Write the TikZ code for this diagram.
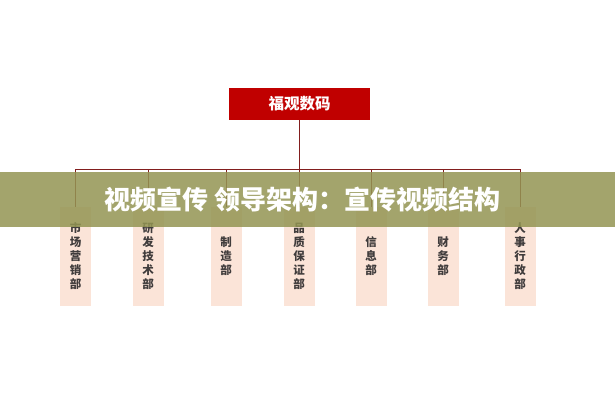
\documentclass[tikz,border=0pt]{standalone}
\usepackage{fontspec}
\setmainfont{Noto Sans CJK SC}
\definecolor{topred}{RGB}{192,0,0}
\definecolor{deptpink}{RGB}{251,228,216}
\definecolor{deptgray}{RGB}{64,60,60}
\definecolor{linered}{RGB}{130,30,30}
\definecolor{bannergreen}{RGB}{147,149,83}
\begin{document}
\begin{tikzpicture}[x=1pt,y=-1pt,
  dept/.style={fill=deptpink, minimum width=31pt, minimum height=99pt, inner sep=0pt,
    align=center, font=\fontsize{11.5}{14}\selectfont\bfseries, text=deptgray},
  link/.style={draw=linered, line width=0.9pt}]
\useasboundingbox (0,0) rectangle (615,400);
\fill[white] (0,0) rectangle (615,400);
\node[fill=topred, minimum width=141pt, minimum height=32pt, inner sep=0pt, text=white,
  font=\fontsize{15.5}{16}\selectfont\bfseries] (top) at (299.5,104) {福观数码};
\node[dept] (d1) at (75.5,256.5) {市\\场\\营\\销\\部};
\node[dept] (d2) at (148,256.5) {研\\发\\技\\术\\部};
\node[dept] (d3) at (226,256.5) {制\\造\\部};
\node[dept] (d4) at (299,256.5) {品\\质\\保\\证\\部};
\node[dept] (d5) at (371,256.5) {信\\息\\部};
\node[dept] (d6) at (443,256.5) {财\\务\\部};
\node[dept] (d7) at (520,256.5) {人\\事\\行\\政\\部};
\coordinate (bar) at (299.5,169);
\foreach \d in {d1,d2,d3,d4,d5,d6,d7}
  \draw[link] (top.south) -- (bar) -| (\d.north);
\node[fill=bannergreen, fill opacity=0.85, minimum width=615pt, minimum height=55pt,
  inner sep=0pt] (banner) at (307.5,199.5) {};
\node[text=white, inner sep=0pt, font=\fontsize{26}{27}\selectfont\bfseries]
  (headline) at (302.5,200) {视频宣传 领导架构：宣传视频结构};
\end{tikzpicture}
\end{document}
